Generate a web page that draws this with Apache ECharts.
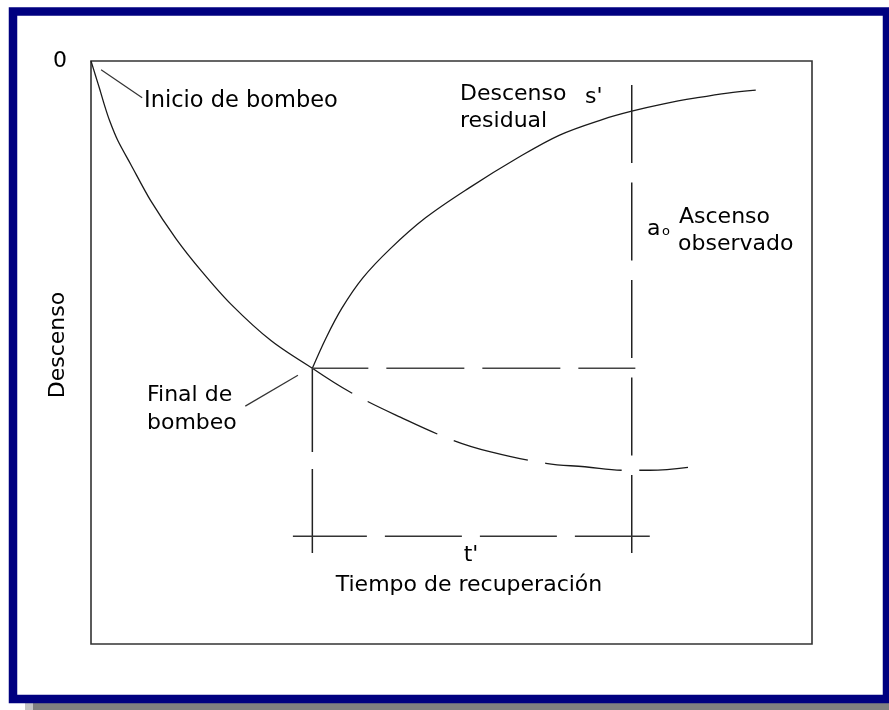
<!DOCTYPE html>
<html><head><meta charset="utf-8">
<script src="https://cdn.jsdelivr.net/npm/echarts@6/dist/echarts.min.js"></script>
<style>html,body{margin:0;padding:0;background:#fff}#c{width:889px;height:710px}</style>
</head><body><div id="c"></div>
<script>
// Data (time on x, drawdown on y; arbitrary 0-100 units, drawdown grows downward)
const pumpTime     = [0, 0.6, 1.3, 1.9, 2.6, 3.7, 5.5, 8.3, 11.8, 15.3, 19.4, 25.0, 30.7];
const pumpDrawdown = [0, 2.4, 5.2, 7.7, 10.3, 13.6, 17.7, 24.0, 30.5, 36.0, 41.7, 48.0, 52.7];
const extTime      = [30.7, 36.1, 42.9, 50.1, 55.3, 63.1, 68.5, 73.9, 77.5, 82.8];
const extDrawdown  = [52.7, 56.9, 61.1, 65.0, 67.0, 69.0, 69.6, 70.2, 70.2, 69.7];
const recTime      = [30.7, 32.6, 34.8, 37.7, 41.6, 46.4, 52.4, 59.2, 65.0, 71.0, 75.0, 79.6, 84.1, 88.3, 92.2];
const recDrawdown  = [52.7, 47.5, 42.4, 37.2, 32.1, 26.9, 21.8, 16.6, 12.7, 10.0, 8.6, 7.3, 6.3, 5.5, 5.0];
const tEnd = 30.7, sEnd = 52.7, tObs = 75.0;
const obsTop = 4.1, guideBottom = 84.4, hGuideEnd = 75.5;
const dimY = 81.5, dimStart = 28.0, dimEnd = 77.5;
const inicioLeaderT = [1.4, 7.1], inicioLeaderS = [1.5, 6.3];
const finalLeaderT = [21.4, 28.7], finalLeaderS = [59.2, 53.9];
const yTickLabels = ['0'];
const axisMin = 0, axisMax = 100;

const zip = (xs, ys) => xs.map((x, i) => [x, ys[i]]);
const chart = echarts.init(document.getElementById('c'), null, {renderer: 'canvas'});
const FONT = 'DejaVu Sans';
const ink = '#1a1a1a';

function lineSeries(data, style, smooth) {
  return {type: 'line', data: data, symbol: 'none', silent: true, smooth: smooth || false,
          lineStyle: Object.assign({color: ink, width: 1.3}, style), animation: false, z: 3};
}
function txt(text, x, y, size, align, extra) {
  return Object.assign({type: 'text', x: x, y: y, silent: true, z: 10,
    style: {text: text, fontFamily: FONT, fontSize: size, fill: '#000', align: align || 'left', verticalAlign: 'middle'}}, extra || {});
}

const option = {
  backgroundColor: '#ffffff',
  animation: false,
  grid: {left: 91, top: 61, width: 721, height: 583, show: true, borderColor: '#333333', borderWidth: 1.6, backgroundColor: 'rgba(0,0,0,0)'},
  xAxis: {type: 'value', min: axisMin, max: axisMax, show: false},
  yAxis: {type: 'value', inverse: true, min: axisMin, max: axisMax, interval: 100,
    axisLine: {show: false}, axisTick: {show: false}, splitLine: {show: false},
    axisLabel: {margin: 24, fontFamily: FONT, fontSize: 22, color: '#000', padding: [3, 0, 0, 0],
      formatter: v => (v === 0 ? yTickLabels[0] : '')}},
  series: [
    lineSeries(zip(pumpTime, pumpDrawdown), {}, 0.3),
    lineSeries(zip(extTime, extDrawdown), {type: [77, 17.5], dashOffset: 30}, 0.4),
    lineSeries(zip(recTime, recDrawdown), {}, 0.35),
    lineSeries([[tObs, obsTop], [tObs, guideBottom]], {type: [78, 19.5], width: 1.5, color: '#222'}),
    lineSeries([[tEnd, guideBottom], [tEnd, sEnd]], {type: [84, 17], width: 1.5, color: '#222'}),
    lineSeries([[tEnd, sEnd], [hGuideEnd, sEnd]], {type: [78, 18], dashOffset: 22, width: 1.7, color: '#444'}),
    lineSeries([[dimStart, dimY], [dimEnd, dimY]], {type: [77, 18], dashOffset: 3, width: 1.5, color: '#333'}),
    lineSeries(zip(inicioLeaderT, inicioLeaderS), {width: 1.2, color: '#333'}),
    lineSeries(zip(finalLeaderT, finalLeaderS), {width: 1.2, color: '#333'})
  ],
  graphic: [
    {type: 'rect', silent: true, z: 1, shape: {x: 33, y: 703, width: 860, height: 10}, style: {fill: '#808080'}},
    {type: 'rect', silent: true, z: 1, shape: {x: 25, y: 703, width: 8, height: 10}, style: {fill: '#c4c4c4'}},
    {type: 'rect', silent: true, z: 2, shape: {x: 13, y: 11.5, width: 874, height: 687.5}, style: {fill: 'none', stroke: '#000080', lineWidth: 8.5}},
    txt('Inicio de bombeo', 144, 101.5, 22.5),
    txt('Descenso', 460, 94.5, 22),
    txt('residual', 460, 121, 22),
    txt("s'", 585, 97, 22),
    txt('a', 647, 229, 22),
    txt('o', 662, 231.5, 13),
    txt('Ascenso', 679, 217.5, 22),
    txt('observado', 678, 244, 22),
    txt('Final de', 147, 395.5, 22),
    txt('bombeo', 147, 423.5, 22),
    txt("t'", 471, 555, 22, 'center'),
    txt('Tiempo de recuperación', 469, 585, 22, 'center'),
    txt('Descenso', 58, 345, 22, 'center', {rotation: Math.PI / 2})
  ]
};
chart.setOption(option);
</script>
</body></html>
